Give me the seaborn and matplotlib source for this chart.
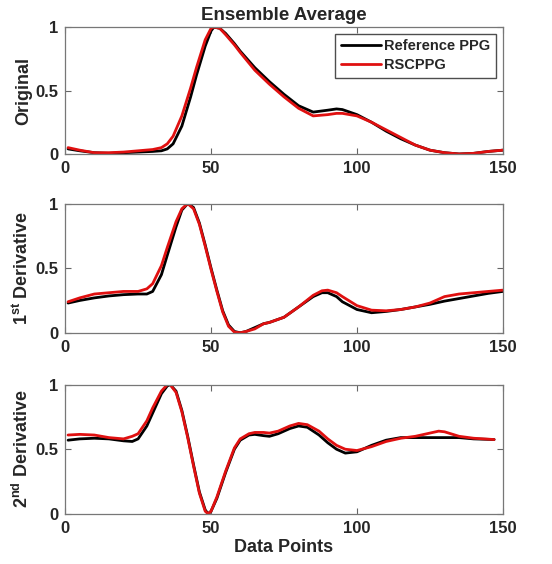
import numpy as np
import pandas as pd
import matplotlib
matplotlib.use('Agg')
import matplotlib.pyplot as plt
import seaborn as sns

# Original signal (ensemble average)
x_orig = [1, 5, 10, 15, 20, 25, 30, 33, 35, 37, 40, 43, 45, 48, 50, 51, 53, 55, 58, 60,
          65, 70, 75, 80, 85, 90, 93, 95, 100, 105, 110, 115, 120, 125, 130, 135, 140, 145, 150]
ref_orig = [0.04, 0.025, 0.01, 0.005, 0.01, 0.015, 0.02, 0.025, 0.04, 0.08, 0.22, 0.45, 0.62, 0.85,
            0.97, 1.0, 0.99, 0.95, 0.87, 0.81, 0.68, 0.57, 0.47, 0.38, 0.33, 0.345, 0.355, 0.35,
            0.31, 0.25, 0.18, 0.12, 0.07, 0.03, 0.01, 0.0, 0.005, 0.02, 0.03]
rsc_orig = [0.05, 0.03, 0.01, 0.01, 0.015, 0.025, 0.035, 0.05, 0.08, 0.14, 0.30, 0.52, 0.68, 0.90,
            0.99, 1.0, 0.99, 0.94, 0.86, 0.80, 0.66, 0.55, 0.45, 0.36, 0.30, 0.31, 0.32, 0.32,
            0.30, 0.25, 0.19, 0.13, 0.07, 0.03, 0.01, 0.0, 0.005, 0.02, 0.03]

# 1st derivative
x_d1 = [1, 5, 10, 15, 20, 25, 28, 30, 33, 35, 38, 40, 42, 44, 46, 48, 50, 52, 54, 56, 58, 60,
        62, 65, 68, 70, 75, 80, 85, 88, 90, 93, 95, 100, 105, 110, 115, 120, 125, 130, 135,
        140, 145, 150]
ref_d1 = [0.23, 0.25, 0.27, 0.285, 0.295, 0.30, 0.30, 0.32, 0.45, 0.60, 0.82, 0.95, 1.0, 0.97,
          0.85, 0.68, 0.50, 0.33, 0.17, 0.06, 0.01, 0.0, 0.01, 0.04, 0.07, 0.08, 0.12, 0.20,
          0.28, 0.31, 0.31, 0.28, 0.24, 0.18, 0.155, 0.165, 0.18, 0.20, 0.22, 0.245, 0.265,
          0.285, 0.305, 0.32]
rsc_d1 = [0.24, 0.27, 0.30, 0.31, 0.32, 0.32, 0.34, 0.38, 0.52, 0.66, 0.86, 0.96, 1.0, 0.96,
          0.84, 0.67, 0.49, 0.32, 0.16, 0.05, 0.005, 0.0, 0.01, 0.03, 0.07, 0.08, 0.12, 0.20,
          0.29, 0.325, 0.33, 0.31, 0.28, 0.21, 0.175, 0.17, 0.18, 0.20, 0.23, 0.28, 0.30,
          0.31, 0.32, 0.33]

# 2nd derivative
x_d2 = [1, 5, 10, 15, 20, 23, 25, 28, 30, 33, 35, 36, 38, 40, 42, 44, 46, 48, 49, 50, 52, 55,
        58, 60, 63, 65, 68, 70, 73, 77, 80, 83, 87, 90, 93, 96, 100, 105, 110, 115, 120, 125,
        128, 130, 135, 140, 147]
ref_d2 = [0.57, 0.58, 0.585, 0.58, 0.565, 0.56, 0.58, 0.68, 0.78, 0.93, 0.99, 1.0, 0.95, 0.80,
          0.60, 0.38, 0.17, 0.03, 0.0, 0.02, 0.12, 0.32, 0.50, 0.57, 0.61, 0.615, 0.605, 0.60,
          0.62, 0.66, 0.68, 0.67, 0.61, 0.55, 0.50, 0.47, 0.48, 0.53, 0.57, 0.59, 0.59, 0.59,
          0.59, 0.59, 0.59, 0.58, 0.575]
rsc_d2 = [0.61, 0.615, 0.61, 0.59, 0.58, 0.60, 0.62, 0.72, 0.82, 0.95, 1.0, 1.0, 0.94, 0.79,
          0.59, 0.37, 0.16, 0.02, 0.0, 0.02, 0.13, 0.33, 0.51, 0.58, 0.62, 0.63, 0.63, 0.625,
          0.64, 0.68, 0.70, 0.69, 0.64, 0.58, 0.53, 0.50, 0.49, 0.52, 0.56, 0.585, 0.60, 0.625,
          0.64, 0.635, 0.60, 0.585, 0.575]

labels = ['Reference PPG', 'RSCPPG']
palette = {'Reference PPG': '#000000', 'RSCPPG': '#e01010'}


def make_df(x, ref, rsc):
    return pd.DataFrame({
        'x': list(x) + list(x),
        'y': list(ref) + list(rsc),
        'signal': [labels[0]] * len(x) + [labels[1]] * len(x),
    })


panels = [
    (make_df(x_orig, ref_orig, rsc_orig), 'Original'),
    (make_df(x_d1, ref_d1, rsc_d1), r'1$^{\mathbf{st}}$ Derivative'),
    (make_df(x_d2, ref_d2, rsc_d2), r'2$^{\mathbf{nd}}$ Derivative'),
]

sns.set_style('ticks')
plt.rcParams['font.family'] = ['Liberation Sans', 'DejaVu Sans']
plt.rcParams['mathtext.fontset'] = 'custom'
plt.rcParams['mathtext.rm'] = 'Liberation Sans'
plt.rcParams['mathtext.bf'] = 'Liberation Sans:bold'

fig = plt.figure(figsize=(5.52, 5.64), dpi=100)
left, width = 0.118, 0.793
rects = [(left, 0.727, width, 0.225), (left, 0.410, width, 0.229), (left, 0.089, width, 0.229)]

for i, ((df, ylab), r) in enumerate(zip(panels, rects)):
    ax = fig.add_axes(r)
    sns.lineplot(data=df, x='x', y='y', hue='signal', palette=palette, linewidth=2.0,
                 legend=(i == 0), ax=ax, sort=True)
    ax.set_xlim(0, 150)
    ax.set_ylim(0, 1)
    ax.set_xticks([0, 50, 100, 150])
    ax.set_yticks([0, 0.5, 1])
    ax.set_yticklabels(['0', '0.5', '1'])
    ax.tick_params(direction='in', top=True, right=True, length=4, width=0.8,
                   labelsize=12, colors='#666666', labelcolor='#262626', pad=5)
    for lab in ax.get_xticklabels() + ax.get_yticklabels():
        lab.set_fontweight('bold')
    for s in ax.spines.values():
        s.set_color('#777777')
        s.set_linewidth(0.9)
    ax.set_ylabel(ylab, fontsize=13, fontweight='bold', color='#262626', labelpad=2)
    ax.set_xlabel('')
    if i == 0:
        ax.set_title('Ensemble Average', fontsize=13.5, fontweight='bold', pad=5)
        leg = ax.legend(loc='upper right', fontsize=10.5, frameon=True, fancybox=False,
                        edgecolor='#222222', handlelength=2.8, handletextpad=0.2,
                        borderpad=0.4, labelspacing=0.3, borderaxespad=0.45)
        leg.get_frame().set_linewidth(1.0)
        for t in leg.get_texts():
            t.set_fontweight('bold')
    if i == 2:
        ax.set_xlabel('Data Points', fontsize=13, fontweight='bold', color='#262626', labelpad=2)

fig.savefig('out.png', dpi=100)
